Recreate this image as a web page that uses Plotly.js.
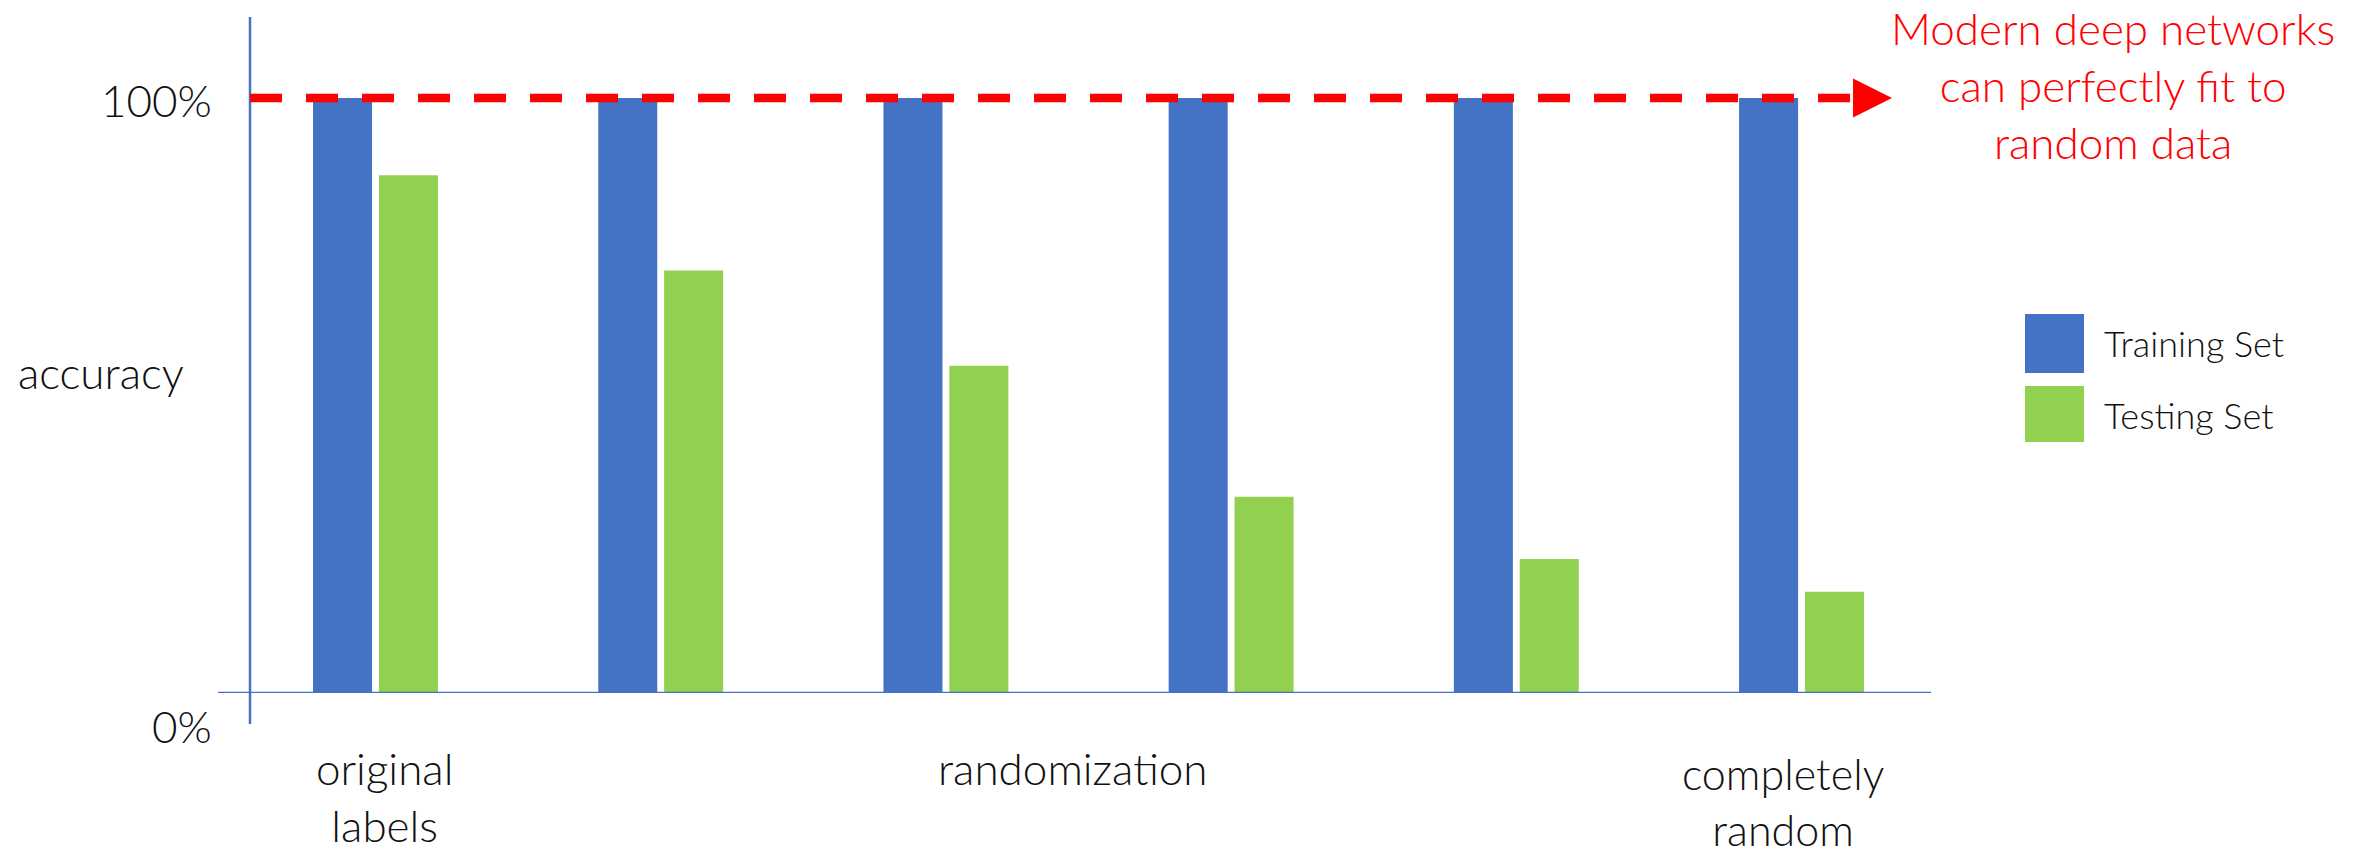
<!DOCTYPE html>
<html>
<head>
<meta charset="utf-8">
<script src="https://cdn.plot.ly/plotly-3.0.1.min.js"></script>
<style>
  html, body { margin: 0; padding: 0; background: #ffffff; }
  #chart { width: 2359px; height: 852px; }
</style>
</head>
<body>
<div id="chart"></div>
<script>
// Randomization steps, from original labels to completely random labels
const steps = [0, 1, 2, 3, 4, 5];
const seriesNames = ['Training Set', 'Testing Set'];
const trainAccuracy = [1.0, 1.0, 1.0, 1.0, 1.0, 1.0];
const testAccuracy = [0.87, 0.71, 0.55, 0.33, 0.225, 0.17];
const yTickValues = [0, 1];
const yTickText = ['0%', '100%'];
const yTitle = 'accuracy';
const stepLabels = ['original<br>labels', 'randomization', 'completely<br>random'];
const calloutText = 'Modern deep networks<br>can perfectly fit to<br>random data';

const BLUE = '#4472C4';
const GREEN = '#92D050';
const RED = '#FF0000';
const INK = '#111111';
const FONT = 'Lato, "Open Sans", sans-serif';

const W = 2359, H = 852;
const margin = { l: 250, r: 428, t: 17, b: 159, pad: 0 };
const plotW = W - margin.l - margin.r;
const plotH = H - margin.t - margin.b;
const yRange = [0, 1.1361];
const xRange = [-0.440, 5.454];

// pixel helpers for decorations placed in paper space
const px2paperX = px => (px - margin.l) / plotW;
const px2paperY = py => (H - margin.b - py) / plotH;
const val2paperY = v => (v - yRange[0]) / (yRange[1] - yRange[0]);

const barWidth = 0.207;

const traces = [
  {
    type: 'bar', name: seriesNames[0], x: steps, y: trainAccuracy,
    width: barWidth, offset: -0.219,
    marker: { color: BLUE, line: { width: 0 } },
    hoverinfo: 'skip', showlegend: false
  },
  {
    type: 'bar', name: seriesNames[1], x: steps, y: testAccuracy,
    width: barWidth, offset: 0.012,
    marker: { color: GREEN, line: { width: 0 } },
    hoverinfo: 'skip', showlegend: false
  }
];

const arrowTipY = val2paperY(1);
const shapes = [
  // horizontal axis line, crossing past the vertical axis
  { type: 'line', xref: 'paper', yref: 'y', x0: px2paperX(218), x1: 1, y0: 0, y1: 0,
    line: { color: BLUE, width: 2.5 }, layer: 'above' },
  // vertical axis line, running a little below the baseline
  { type: 'line', xref: 'paper', yref: 'paper', x0: 0, x1: 0, y0: px2paperY(724), y1: 1,
    line: { color: BLUE, width: 2.5 }, layer: 'above' },
  // dashed 100% reference line
  { type: 'line', xref: 'paper', yref: 'y', x0: 0, x1: px2paperX(1850), y0: 1, y1: 1,
    line: { color: RED, width: 8.5, dash: '32px,24px' }, layer: 'above' },
  // arrowhead
  { type: 'path', xref: 'paper', yref: 'paper', layer: 'above',
    path: 'M' + px2paperX(1853) + ',' + (arrowTipY + 19.5 / plotH) +
          ' L' + px2paperX(1892) + ',' + arrowTipY +
          ' L' + px2paperX(1853) + ',' + (arrowTipY - 19.5 / plotH) + ' Z',
    fillcolor: RED, line: { width: 0 } },
  // legend swatches
  { type: 'rect', xref: 'paper', yref: 'paper',
    x0: px2paperX(2025), x1: px2paperX(2084), y0: px2paperY(373), y1: px2paperY(314),
    fillcolor: traces[0].marker.color, line: { width: 0 } },
  { type: 'rect', xref: 'paper', yref: 'paper',
    x0: px2paperX(2025), x1: px2paperX(2084), y0: px2paperY(442), y1: px2paperY(386),
    fillcolor: traces[1].marker.color, line: { width: 0 } }
];

const textFont = { family: FONT, size: 44, color: INK, weight: 300 };
const annotations = [
  // y-axis tick labels
  { xref: 'paper', yref: 'y', x: px2paperX(214), y: yTickValues[1], text: yTickText[1],
    xanchor: 'right', yanchor: 'middle', showarrow: false, font: textFont, yshift: -2 },
  { xref: 'paper', yref: 'y', x: px2paperX(214), y: yTickValues[0], text: yTickText[0],
    xanchor: 'right', yanchor: 'middle', showarrow: false, font: textFont, yshift: -33 },
  // y-axis title
  { xref: 'paper', yref: 'paper', x: px2paperX(16), y: px2paperY(372), text: yTitle,
    xanchor: 'left', yanchor: 'middle', showarrow: false, font: textFont },
  // labels under the steps
  { xref: 'x', yref: 'paper', x: 0.03, y: px2paperY(740), text: stepLabels[0],
    xanchor: 'center', yanchor: 'top', showarrow: false, font: textFont },
  { xref: 'x', yref: 'paper', x: 2.446, y: px2paperY(740), text: stepLabels[1],
    xanchor: 'center', yanchor: 'top', showarrow: false, font: textFont },
  { xref: 'x', yref: 'paper', x: 4.935, y: px2paperY(746), text: stepLabels[2],
    xanchor: 'center', yanchor: 'top', showarrow: false,
    font: { family: FONT, size: 43, color: INK, weight: 300 } },
  // callout
  { xref: 'paper', yref: 'paper', x: px2paperX(2113), y: px2paperY(0), text: calloutText,
    xanchor: 'center', yanchor: 'top', showarrow: false,
    font: { family: FONT, size: 44, color: RED, weight: 300 } },
  // legend entries
  { xref: 'paper', yref: 'paper', x: px2paperX(2102), y: px2paperY(343), text: seriesNames[0],
    xanchor: 'left', yanchor: 'middle', showarrow: false,
    font: { family: FONT, size: 36, color: INK, weight: 300 } },
  { xref: 'paper', yref: 'paper', x: px2paperX(2102), y: px2paperY(415), text: seriesNames[1],
    xanchor: 'left', yanchor: 'middle', showarrow: false,
    font: { family: FONT, size: 36, color: INK, weight: 300 } }
];

const layout = {
  width: W, height: H,
  margin: margin,
  paper_bgcolor: '#ffffff',
  plot_bgcolor: '#ffffff',
  barmode: 'overlay',
  showlegend: false,
  font: { family: FONT, color: INK },
  xaxis: { range: xRange, showgrid: false, zeroline: false, showline: false,
           showticklabels: false, ticks: '', fixedrange: true },
  yaxis: { range: yRange, showgrid: false, zeroline: false, showline: false,
           showticklabels: false, ticks: '', fixedrange: true },
  shapes: shapes,
  annotations: annotations
};

Plotly.newPlot('chart', traces, layout, { staticPlot: true, displayModeBar: false });
</script>
</body>
</html>
